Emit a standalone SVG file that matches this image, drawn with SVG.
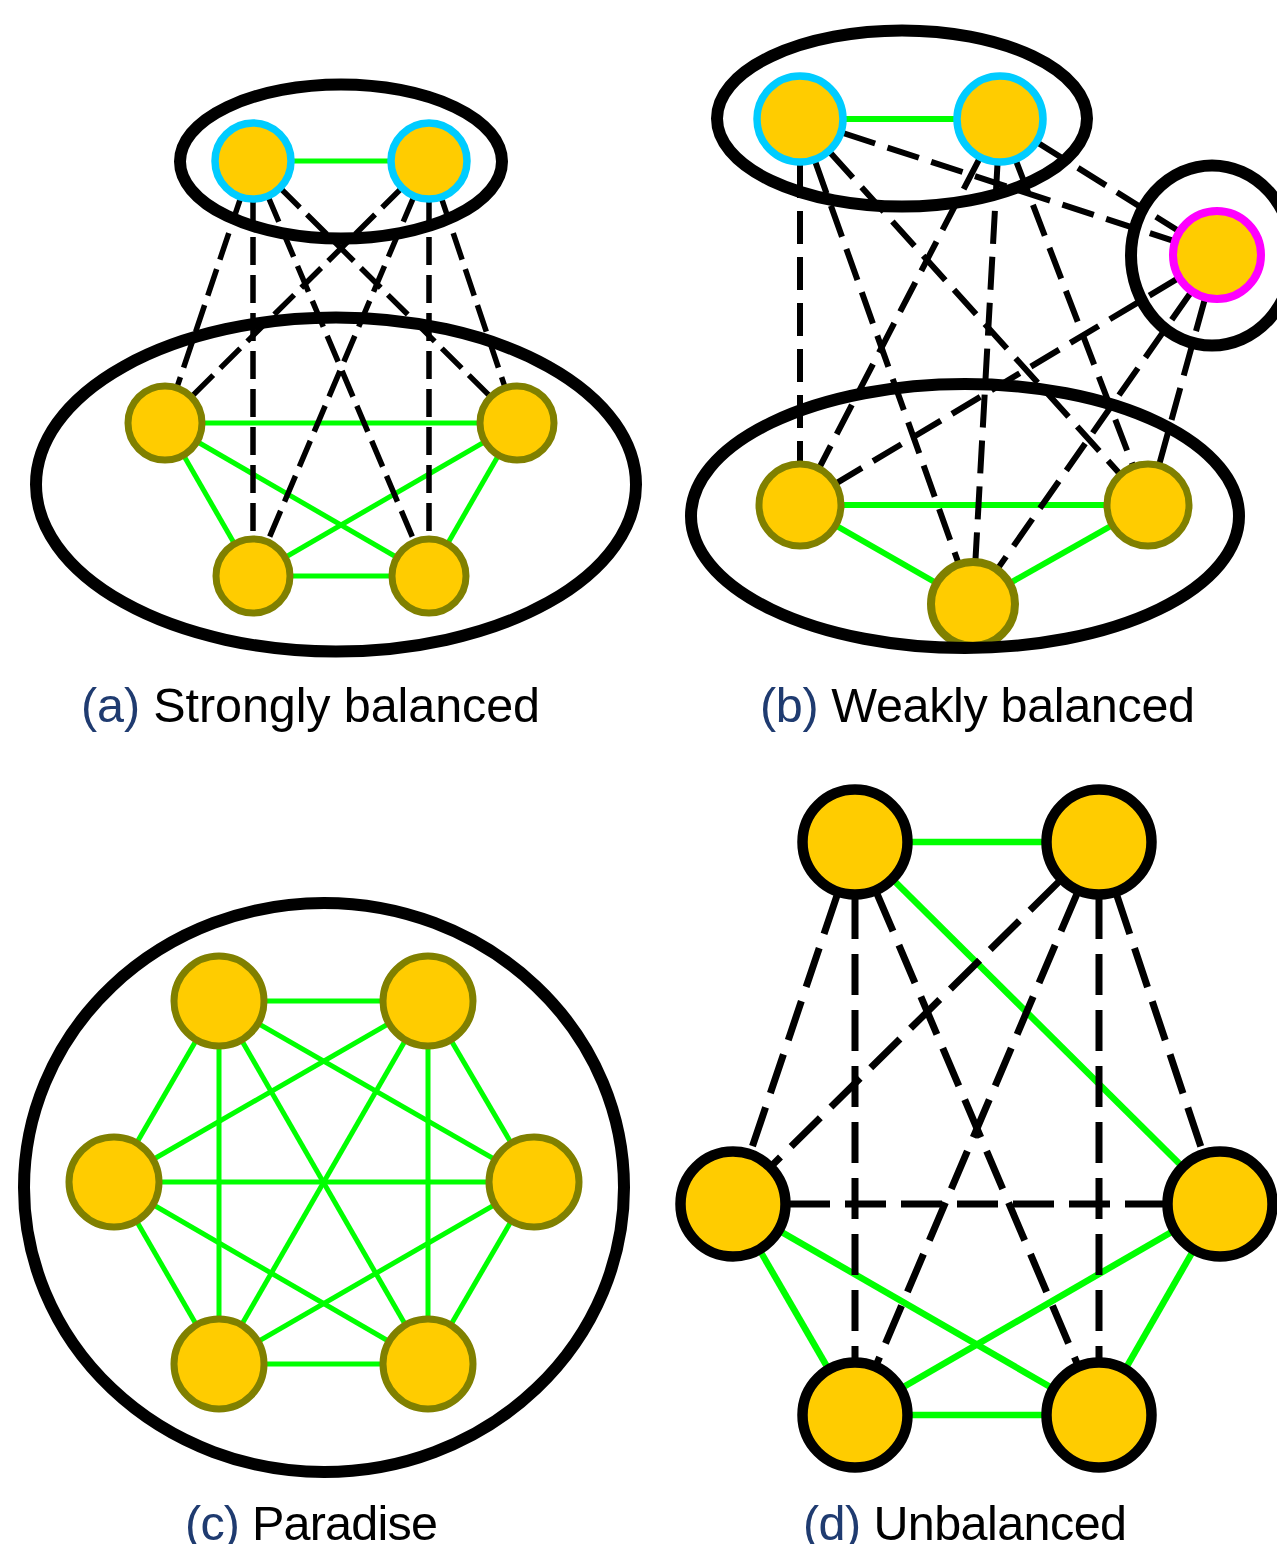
<svg xmlns="http://www.w3.org/2000/svg" width="1277" height="1544" viewBox="0 0 1277 1544">
  <style>
    .node { fill: #ffcc00; }
    .cyan { stroke: #00ccff; stroke-width: 7.5; }
    .magenta { stroke: #ff00ff; stroke-width: 8; }
    .olive { stroke: #808000; stroke-width: 7; }
    .black { stroke: #000000; stroke-width: 10.5; }
    .cluster { fill: none; stroke: #000000; stroke-width: 12; }
    .pos { stroke: #00ff00; fill: none; }
    .neg { stroke: #000000; fill: none; }
    .a .pos { stroke-width: 5; }
    .a .neg { stroke-width: 5.5; stroke-dasharray: 28 10; }
    .b .pos { stroke-width: 6; }
    .b .neg { stroke-width: 6; stroke-dasharray: 33 13; }
    .c .pos { stroke-width: 5; }
    .d .pos { stroke-width: 6.5; }
    .d .neg { stroke-width: 7; stroke-dasharray: 41 15; }
    .caption { font-family: "Liberation Sans", "DejaVu Sans", sans-serif; font-size: 48.5px; fill: #000000; }
    .label { fill: #1f3b70; }
  </style>

  <!-- (a) strongly balanced -->
  <g id="panel-a">
    <g id="edges-a" class="a">
      <line class="pos" x1="253" y1="161" x2="429" y2="161"/>
      <line class="pos" x1="165" y1="423" x2="517" y2="423"/>
      <line class="pos" x1="165" y1="423" x2="253" y2="576"/>
      <line class="pos" x1="165" y1="423" x2="429" y2="576"/>
      <line class="pos" x1="517" y1="423" x2="253" y2="576"/>
      <line class="pos" x1="517" y1="423" x2="429" y2="576"/>
      <line class="pos" x1="253" y1="576" x2="429" y2="576"/>
      <line class="neg" x1="253" y1="161" x2="165" y2="423"/>
      <line class="neg" x1="253" y1="161" x2="253" y2="576"/>
      <line class="neg" x1="253" y1="161" x2="429" y2="576"/>
      <line class="neg" x1="253" y1="161" x2="517" y2="423"/>
      <line class="neg" x1="429" y1="161" x2="165" y2="423"/>
      <line class="neg" x1="429" y1="161" x2="253" y2="576"/>
      <line class="neg" x1="429" y1="161" x2="429" y2="576"/>
      <line class="neg" x1="429" y1="161" x2="517" y2="423"/>
    </g>
    <g id="a-n1"><circle class="node cyan" cx="253" cy="161" r="38"/></g>
    <g id="a-n2"><circle class="node cyan" cx="429" cy="161" r="38"/></g>
    <g id="a-n3"><circle class="node olive" cx="165" cy="423" r="37"/></g>
    <g id="a-n4"><circle class="node olive" cx="517" cy="423" r="37"/></g>
    <g id="a-n5"><circle class="node olive" cx="253" cy="576" r="37"/></g>
    <g id="a-n6"><circle class="node olive" cx="429" cy="576" r="37"/></g>
    <g id="a-group-top"><ellipse class="cluster" cx="341" cy="161.5" rx="161" ry="77"/></g>
    <g id="a-group-bottom"><ellipse class="cluster" cx="336" cy="484.5" rx="300" ry="167"/></g>
    <text class="caption" x="81" y="722" textLength="459" lengthAdjust="spacing"><tspan class="label">(a)</tspan> Strongly balanced</text>
  </g>

  <!-- (b) weakly balanced -->
  <g id="panel-b">
    <g id="edges-b" class="b">
      <line class="pos" x1="800" y1="119" x2="1000" y2="119"/>
      <line class="pos" x1="800" y1="505" x2="1148" y2="505"/>
      <line class="pos" x1="800" y1="505" x2="973" y2="604"/>
      <line class="pos" x1="1148" y1="505" x2="973" y2="604"/>
      <line class="neg" x1="800" y1="119" x2="800" y2="505"/>
      <line class="neg" x1="800" y1="119" x2="973" y2="604"/>
      <line class="neg" x1="800" y1="119" x2="1148" y2="505"/>
      <line class="neg" x1="800" y1="119" x2="1217" y2="255"/>
      <line class="neg" x1="1000" y1="119" x2="800" y2="505"/>
      <line class="neg" x1="1000" y1="119" x2="973" y2="604"/>
      <line class="neg" x1="1000" y1="119" x2="1148" y2="505"/>
      <line class="neg" x1="1000" y1="119" x2="1217" y2="255"/>
      <line class="neg" x1="1217" y1="255" x2="800" y2="505"/>
      <line class="neg" x1="1217" y1="255" x2="973" y2="604"/>
      <line class="neg" x1="1217" y1="255" x2="1148" y2="505"/>
    </g>
    <g id="b-n1"><circle class="node cyan" cx="800" cy="119" r="43"/></g>
    <g id="b-n2"><circle class="node cyan" cx="1000" cy="119" r="43"/></g>
    <g id="b-n3"><circle class="node magenta" cx="1217" cy="255" r="44"/></g>
    <g id="b-n4"><circle class="node olive" cx="800" cy="505" r="41"/></g>
    <g id="b-n5"><circle class="node olive" cx="1148" cy="505" r="41"/></g>
    <g id="b-n6"><circle class="node olive" cx="973" cy="604" r="42" style="stroke-width:8"/></g>
    <g id="b-group-top"><ellipse class="cluster" cx="902" cy="118.5" rx="185" ry="88"/></g>
    <g id="b-group-right"><ellipse class="cluster" cx="1212" cy="255.5" rx="81" ry="90"/></g>
    <g id="b-group-bottom"><ellipse class="cluster" cx="965" cy="516" rx="274" ry="132"/></g>
    <text class="caption" x="760" y="722" textLength="435" lengthAdjust="spacing"><tspan class="label">(b)</tspan> Weakly balanced</text>
  </g>

  <!-- (c) paradise: complete positive graph on six nodes -->
  <g id="panel-c">
    <g id="edges-c" class="c">
      <line class="pos" x1="219" y1="1001" x2="428" y2="1001"/>
      <line class="pos" x1="219" y1="1001" x2="114" y2="1182"/>
      <line class="pos" x1="219" y1="1001" x2="534" y2="1182"/>
      <line class="pos" x1="219" y1="1001" x2="219" y2="1364"/>
      <line class="pos" x1="219" y1="1001" x2="428" y2="1364"/>
      <line class="pos" x1="428" y1="1001" x2="114" y2="1182"/>
      <line class="pos" x1="428" y1="1001" x2="534" y2="1182"/>
      <line class="pos" x1="428" y1="1001" x2="219" y2="1364"/>
      <line class="pos" x1="428" y1="1001" x2="428" y2="1364"/>
      <line class="pos" x1="114" y1="1182" x2="534" y2="1182"/>
      <line class="pos" x1="114" y1="1182" x2="219" y2="1364"/>
      <line class="pos" x1="114" y1="1182" x2="428" y2="1364"/>
      <line class="pos" x1="534" y1="1182" x2="219" y2="1364"/>
      <line class="pos" x1="534" y1="1182" x2="428" y2="1364"/>
      <line class="pos" x1="219" y1="1364" x2="428" y2="1364"/>
    </g>
    <g id="c-n1"><circle class="node olive" cx="219" cy="1001" r="45"/></g>
    <g id="c-n2"><circle class="node olive" cx="428" cy="1001" r="45"/></g>
    <g id="c-n3"><circle class="node olive" cx="114" cy="1182" r="45"/></g>
    <g id="c-n4"><circle class="node olive" cx="534" cy="1182" r="45"/></g>
    <g id="c-n5"><circle class="node olive" cx="219" cy="1364" r="45"/></g>
    <g id="c-n6"><circle class="node olive" cx="428" cy="1364" r="45"/></g>
    <g id="c-group"><ellipse class="cluster" cx="324" cy="1187.5" rx="300" ry="284.5"/></g>
    <text class="caption" x="185" y="1540" textLength="253" lengthAdjust="spacing"><tspan class="label">(c)</tspan> Paradise</text>
  </g>

  <!-- (d) unbalanced -->
  <g id="panel-d">
    <g id="edges-d" class="d">
      <line class="pos" x1="855" y1="842" x2="1099" y2="842"/>
      <line class="pos" x1="855" y1="842" x2="1220" y2="1204"/>
      <line class="pos" x1="733" y1="1204" x2="855" y2="1415"/>
      <line class="pos" x1="733" y1="1204" x2="1099" y2="1415"/>
      <line class="pos" x1="1220" y1="1204" x2="855" y2="1415"/>
      <line class="pos" x1="1220" y1="1204" x2="1099" y2="1415"/>
      <line class="pos" x1="855" y1="1415" x2="1099" y2="1415"/>
      <line class="neg" x1="855" y1="842" x2="733" y2="1204"/>
      <line class="neg" x1="855" y1="842" x2="855" y2="1415"/>
      <line class="neg" x1="855" y1="842" x2="1099" y2="1415"/>
      <line class="neg" x1="1099" y1="842" x2="733" y2="1204"/>
      <line class="neg" x1="1099" y1="842" x2="855" y2="1415"/>
      <line class="neg" x1="1099" y1="842" x2="1099" y2="1415"/>
      <line class="neg" x1="1099" y1="842" x2="1220" y2="1204"/>
      <line class="neg" x1="733" y1="1204" x2="1220" y2="1204"/>
    </g>
    <g id="d-n1"><circle class="node black" cx="855" cy="842" r="52.5"/></g>
    <g id="d-n2"><circle class="node black" cx="1099" cy="842" r="52.5"/></g>
    <g id="d-n3"><circle class="node black" cx="733" cy="1204" r="52.5"/></g>
    <g id="d-n4"><circle class="node black" cx="1220" cy="1204" r="52.5"/></g>
    <g id="d-n5"><circle class="node black" cx="855" cy="1415" r="52.5"/></g>
    <g id="d-n6"><circle class="node black" cx="1099" cy="1415" r="52.5"/></g>
    <text class="caption" x="803" y="1540" textLength="324" lengthAdjust="spacing"><tspan class="label">(d)</tspan> Unbalanced</text>
  </g>
</svg>
